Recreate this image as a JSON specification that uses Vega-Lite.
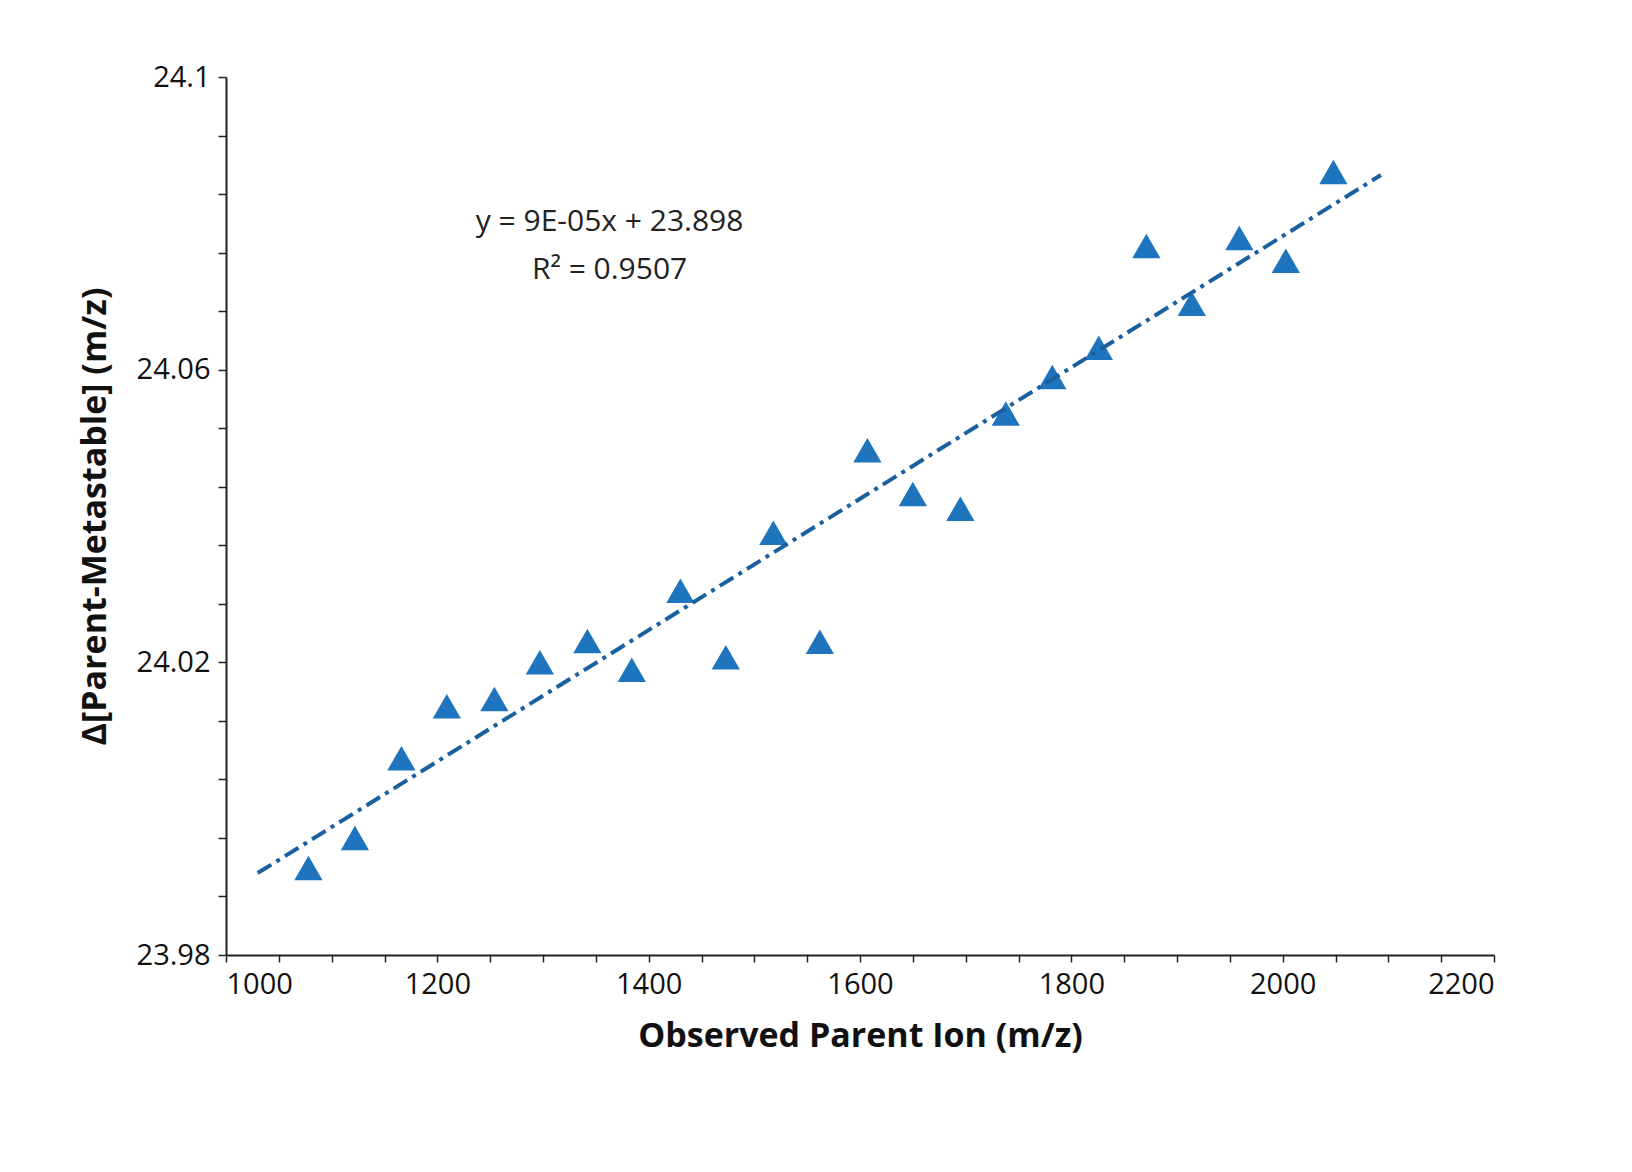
{
  "$schema": "https://vega.github.io/schema/vega-lite/v6.json",
  "width": 1268,
  "height": 878,
  "autosize": {"type": "none"},
  "padding": {"left": 226, "top": 77, "right": 138, "bottom": 217},
  "background": "white",
  "config": {
    "view": {"stroke": null},
    "font": "Open Sans",
    "axis": {"grid": false, "domainColor": "#222", "tickColor": "#222", "domainWidth": 2, "tickWidth": 1.5, "labelFontSize": 29, "labelColor": "#111", "titleFontSize": 34, "titleFontWeight": "bold", "titleColor": "#111", "labelOverlap": false}
  },
  "datasets": {
    "points": [
      {"mz": 1078, "delta": 23.9919},
      {"mz": 1122, "delta": 23.996},
      {"mz": 1166, "delta": 24.0069},
      {"mz": 1209, "delta": 24.014},
      {"mz": 1254, "delta": 24.015},
      {"mz": 1297, "delta": 24.02},
      {"mz": 1342, "delta": 24.0229},
      {"mz": 1384, "delta": 24.019},
      {"mz": 1430, "delta": 24.0298},
      {"mz": 1473, "delta": 24.0207},
      {"mz": 1518, "delta": 24.0377},
      {"mz": 1562, "delta": 24.0228},
      {"mz": 1607, "delta": 24.049},
      {"mz": 1650, "delta": 24.043},
      {"mz": 1695, "delta": 24.041},
      {"mz": 1738, "delta": 24.054},
      {"mz": 1782, "delta": 24.059},
      {"mz": 1826, "delta": 24.063},
      {"mz": 1871, "delta": 24.0769},
      {"mz": 1914, "delta": 24.069},
      {"mz": 1959, "delta": 24.078},
      {"mz": 2003, "delta": 24.0749},
      {"mz": 2048, "delta": 24.087}
    ],
    "trend": [
      {"mz": 1030, "delta": 23.9912},
      {"mz": 2093, "delta": 24.0866}
    ],
    "notes": [
      {"mz": 1363, "delta": 24.0802, "text": "y = 9E-05x + 23.898"},
      {"mz": 1363, "delta": 24.0736, "text": "R² = 0.9507"}
    ]
  },
  "layer": [
    {
      "data": {"name": "points"},
      "mark": {"type": "point", "shape": "triangle-up", "filled": true, "size": 800, "color": "#1f74be", "opacity": 1},
      "encoding": {
        "x": {"field": "mz", "type": "quantitative", "scale": {"domain": [1000, 2200], "nice": false},
          "title": "Observed Parent Ion (m/z)",
          "axis": {"values": [1000,1050,1100,1150,1200,1250,1300,1350,1400,1450,1500,1550,1600,1650,1700,1750,1800,1850,1900,1950,2000,2050,2100,2150,2200],
            "labelExpr": "round(datum.value) % 200 === 0 ? format(datum.value, 'd') : ''", "labelPadding": 8, "titlePadding": 20, "tickSize": 7}},
        "y": {"field": "delta", "type": "quantitative", "scale": {"domain": [23.98, 24.1], "nice": false, "zero": false},
          "title": "Δ[Parent-Metastable] (m/z)",
          "axis": {"values": [23.98,23.984,23.988,23.992,23.996,24,24.004,24.008,24.012,24.016,24.02,24.024,24.028,24.032,24.036,24.04,24.044,24.048,24.052,24.056,24.06,24.064,24.068,24.072,24.076,24.08,24.084,24.088,24.092,24.096,24.1],
            "labelExpr": "round(datum.value * 1000) % 20 === 0 ? format(datum.value, '~g') : ''", "labelPadding": 8, "titlePadding": 24, "tickSize": 8}}
      }
    },
    {
      "data": {"name": "trend"},
      "mark": {"type": "line", "color": "#1a5f9e", "strokeWidth": 4, "strokeDash": [16, 6, 4, 6]},
      "encoding": {"x": {"field": "mz", "type": "quantitative"}, "y": {"field": "delta", "type": "quantitative"}}
    },
    {
      "data": {"name": "notes"},
      "mark": {"type": "text", "fontSize": 30, "color": "#222", "align": "center", "baseline": "middle"},
      "encoding": {"x": {"field": "mz", "type": "quantitative"}, "y": {"field": "delta", "type": "quantitative"}, "text": {"field": "text"}}
    }
  ]
}
